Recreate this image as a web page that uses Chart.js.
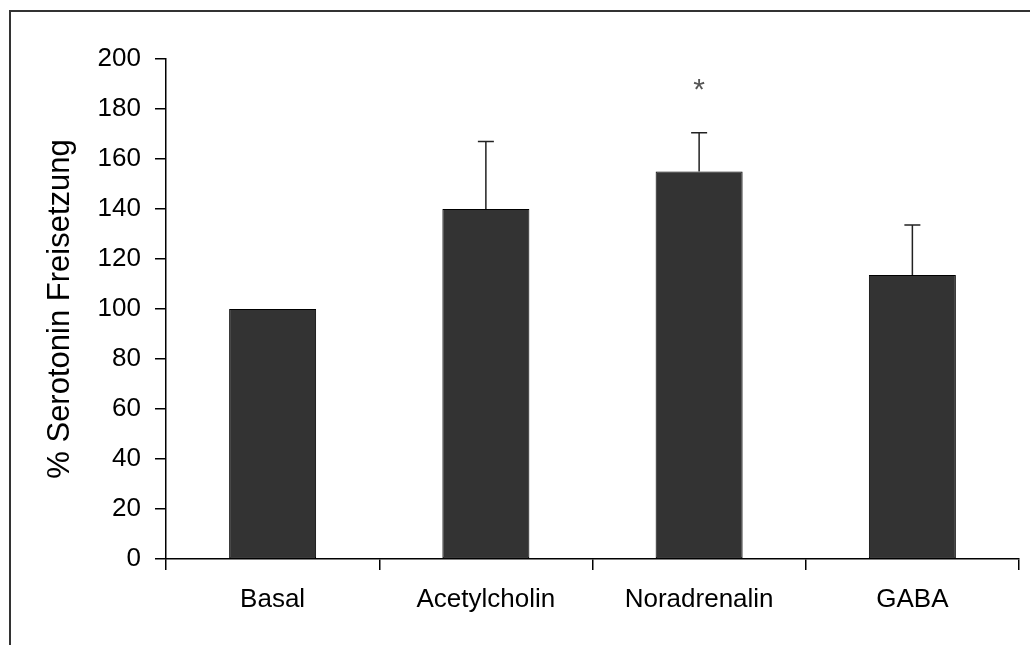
<!DOCTYPE html>
<html>
<head>
<meta charset="utf-8">
<script src="https://cdn.jsdelivr.net/npm/chart.js@4/dist/chart.umd.min.js"></script>
<style>
html,body{margin:0;padding:0;background:#fff;}
#wrap{width:1030px;height:645px;position:relative;}
</style>
</head>
<body>
<div id="wrap"><canvas id="c" width="1030" height="645"></canvas></div>
<script>
const categories = ['Basal', 'Acetylcholin', 'Noradrenalin', 'GABA'];
const releaseValues = [100, 140, 155, 113.6];
const errorValues = [0, 27, 15.5, 20];
const sigMarks = ['', '', '*', ''];
const sigLevel = 190;
const yTicks = [0, 20, 40, 60, 80, 100, 120, 140, 160, 180, 200];
const yTitle = '% Serotonin Freisetzung';

const FONT = "'Liberation Sans', Arial, sans-serif";

const extras = {
  id: 'extras',
  afterDatasetsDraw(chart) {
    const ctx = chart.ctx;
    const meta = chart.getDatasetMeta(0);
    const ys = chart.scales.y;
    ctx.save();
    // error bars (upper only)
    ctx.strokeStyle = '#222';
    ctx.lineWidth = 1.5;
    meta.data.forEach((bar, i) => {
      if (!errorValues[i]) return;
      const top = ys.getPixelForValue(releaseValues[i] + errorValues[i]);
      const base = ys.getPixelForValue(releaseValues[i]);
      ctx.beginPath();
      ctx.moveTo(bar.x, base);
      ctx.lineTo(bar.x, top);
      ctx.moveTo(bar.x - 8, top);
      ctx.lineTo(bar.x + 8, top);
      ctx.stroke();
    });
    // significance marks
    ctx.fillStyle = '#555';
    ctx.font = '30px ' + FONT;
    ctx.textAlign = 'center';
    ctx.textBaseline = 'alphabetic';
    meta.data.forEach((bar, i) => {
      if (!sigMarks[i]) return;
      const m = ctx.measureText(sigMarks[i]);
      const yc = ys.getPixelForValue(sigLevel);
      const asc = m.actualBoundingBoxAscent, desc = m.actualBoundingBoxDescent;
      ctx.fillText(sigMarks[i], bar.x, yc + (asc - desc) / 2);
    });
    ctx.restore();
  },
  afterDraw(chart) {
    const ctx = chart.ctx;
    ctx.save();
    ctx.strokeStyle = '#333';
    ctx.lineWidth = 2;
    ctx.beginPath();
    ctx.moveTo(1030, 11);
    ctx.lineTo(10, 11);
    ctx.lineTo(10, 645);
    ctx.stroke();
    ctx.restore();
  }
};

new Chart(document.getElementById('c'), {
  type: 'bar',
  data: {
    labels: categories,
    datasets: [{
      data: releaseValues,
      backgroundColor: '#333333',
      borderColor: '#000000',
      borderWidth: 1,
      borderSkipped: false,
      categoryPercentage: 1.0,
      barPercentage: 0.408
    }]
  },
  options: {
    responsive: false,
    animation: false,
    events: [],
    layout: { padding: { top: 59, right: 11, left: 0, bottom: 0 } },
    plugins: { legend: { display: false }, tooltip: { enabled: false } },
    scales: {
      x: {
        offset: true,
        grid: { offset: true, drawOnChartArea: false, drawTicks: true, tickLength: 11, color: '#000', lineWidth: 1.5 },
        border: { display: true, color: '#000', width: 1.5 },
        ticks: { color: '#000', font: { family: FONT, size: 26 }, padding: 14, maxRotation: 0 },
        afterFit(s) { s.height = 86; }
      },
      y: {
        min: 0, max: 200,
        afterBuildTicks(s) { s.ticks = yTicks.map(v => ({ value: v })); },
        grid: { drawOnChartArea: false, drawTicks: true, tickLength: 11, color: '#000', lineWidth: 1.5 },
        border: { display: true, color: '#000', width: 1.5 },
        ticks: { color: '#000', font: { family: FONT, size: 26 }, padding: 14 },
        title: { display: true, text: yTitle, color: '#000', font: { family: FONT, size: 31 }, padding: { top: 42, bottom: 0 } },
        afterFit(s) { s.width = 166; }
      }
    }
  },
  plugins: [extras]
});
</script>
</body>
</html>
